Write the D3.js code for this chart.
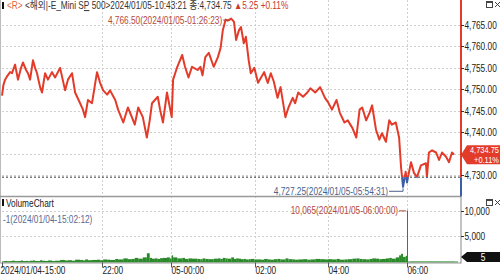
<!DOCTYPE html>
<html>
<head>
<meta charset="utf-8">
<script src="https://cdn.jsdelivr.net/npm/d3@7"></script>
<style>
body { margin: 0; background: #fff; }
svg { display: block; font-family: "Liberation Sans", Arial, "Noto Sans CJK KR", sans-serif; font-size: 10px; }
</style>
</head>
<body>
<svg id="chart" width="500" height="276"></svg>
<script>
// price ticks, [time, price]
var priceSeries = [
	["04 15:00", 4748.50], ["04 15:06", 4751.00], ["04 15:13", 4752.25], ["04 15:21", 4753.00],
	["04 15:34", 4754.00], ["04 15:42", 4753.75], ["04 15:55", 4755.75], ["04 16:07", 4752.25],
	["04 16:20", 4755.00], ["04 16:28", 4756.25], ["04 16:41", 4754.50], ["04 16:49", 4753.75],
	["04 16:58", 4752.25], ["04 17:10", 4756.75], ["04 17:19", 4755.00], ["04 17:27", 4753.75],
	["04 17:40", 4750.50], ["04 17:48", 4749.25], ["04 18:01", 4753.75], ["04 18:13", 4752.25],
	["04 18:30", 4754.00], ["04 18:43", 4752.75], ["04 19:04", 4755.00], ["04 19:25", 4749.75],
	["04 19:37", 4752.25], ["04 19:54", 4753.75], ["04 20:07", 4749.25], ["04 20:28", 4746.75],
	["04 20:40", 4745.25], ["04 20:49", 4743.50], ["04 21:01", 4747.50], ["04 21:18", 4746.75],
	["04 21:39", 4754.00], ["04 21:52", 4751.50],
	["04 22:02", 4749.75], ["04 22:09", 4748.75], ["04 22:14", 4749.75], ["04 22:23", 4747.50],
	["04 22:28", 4745.25], ["04 22:37", 4742.25], ["04 22:45", 4745.75], ["04 22:52", 4743.50],
	["04 22:57", 4741.75], ["04 23:03", 4745.75], ["04 23:11", 4743.50], ["04 23:18", 4738.75],
	["04 23:23", 4742.75], ["04 23:27", 4746.75], ["04 23:32", 4747.50], ["04 23:37", 4748.25],
	["04 23:41", 4745.25], ["04 23:46", 4742.25], ["04 23:53", 4749.25], ["04 23:58", 4745.75],
	["05 00:01", 4743.50], ["05 00:03", 4752.25], ["05 00:09", 4755.25], ["05 00:16", 4758.00],
	["05 00:20", 4755.25], ["05 00:25", 4752.75], ["05 00:30", 4755.25], ["05 00:38", 4754.50],
	["05 00:42", 4755.25], ["05 00:45", 4753.25], ["05 00:49", 4757.50], ["05 00:54", 4758.50],
	["05 01:01", 4755.25], ["05 01:07", 4757.50], ["05 01:11", 4759.75], ["05 01:14", 4763.75],
	["05 01:18", 4766.25], ["05 01:21", 4766.00], ["05 01:26", 4766.50], ["05 01:30", 4765.75],
	["05 01:33", 4761.50], ["05 01:37", 4763.75], ["05 01:40", 4764.50], ["05 01:44", 4760.75],
	["05 01:47", 4762.25], ["05 01:51", 4756.75], ["05 01:54", 4753.75], ["05 01:59", 4755.00],
	["05 02:05", 4751.50], ["05 02:10", 4752.75], ["05 02:15", 4754.00], ["05 02:21", 4751.50],
	["05 02:26", 4753.75], ["05 02:31", 4751.75], ["05 02:37", 4748.00], ["05 02:42", 4750.50],
	["05 02:50", 4743.50], ["05 02:55", 4745.75], ["05 03:02", 4748.00], ["05 03:06", 4746.75],
	["05 03:11", 4749.25], ["05 03:19", 4748.25], ["05 03:26", 4749.25], ["05 03:31", 4750.25],
	["05 03:39", 4749.25], ["05 03:47", 4750.50], ["05 03:55", 4748.00],
	["05 04:00", 4747.00], ["05 04:06", 4745.25], ["05 04:13", 4747.50], ["05 04:18", 4744.50],
	["05 04:25", 4742.25], ["05 04:30", 4742.75], ["05 04:37", 4741.00], ["05 04:43", 4738.75],
	["05 04:48", 4745.25], ["05 04:52", 4745.75], ["05 04:58", 4742.75], ["05 05:03", 4744.50],
	["05 05:07", 4746.25], ["05 05:13", 4740.50], ["05 05:18", 4738.25], ["05 05:22", 4739.75],
	["05 05:28", 4737.75], ["05 05:33", 4742.75], ["05 05:37", 4741.75], ["05 05:43", 4742.25],
	["05 05:48", 4738.75], ["05 05:51", 4731.75], ["05 05:54", 4727.25], ["05 05:58", 4730.75],
	["05 06:00", 4728.25], ["05 06:24", 4733.00], ["05 06:42", 4730.50], ["05 07:00", 4729.50],
	["05 07:24", 4732.25], ["05 07:54", 4732.75], ["05 08:00", 4729.50], ["05 08:12", 4735.25],
	["05 08:31", 4735.75], ["05 08:55", 4735.25], ["05 09:13", 4733.50], ["05 09:31", 4735.25],
	["05 09:55", 4734.25], ["05 10:13", 4733.00], ["05 10:31", 4735.25], ["05 10:43", 4734.75]
];

// volume at the same ticks as priceSeries
var volumeValues = [
	1, 150, 200, 120, 180, 250, 150, 200, 300, 180, 220, 160, 250, 300, 200, 180, 350,
	250, 200, 300, 180, 250, 400, 300, 350, 250, 450, 400, 300, 500, 350, 400, 450, 350,
	500, 450, 400, 600, 500, 700, 550, 600, 800, 650, 900, 1700, 800, 650, 700, 600, 750, 800, 900, 700,
	1300, 900, 700, 800, 600, 700, 650, 600, 550, 700, 600, 550, 650, 700, 600, 800, 700, 650,
	900, 600, 700, 650, 550, 600, 500, 550, 600, 500,
	500, 450, 600, 500, 450, 550, 600, 500, 700, 550, 500, 450, 500, 550, 450, 500, 600, 550, 500,
	550, 500, 600, 450, 500, 550, 650, 700, 600, 550, 500, 600, 700, 650, 550, 600, 700, 800,
	650, 900, 1300, 1600, 1000, 1200,
	10065, 60, 40, 50, 40, 30, 40, 50, 40, 30, 40, 30, 40, 30, 40, 5
];

var priceTicks = [4730, 4735, 4740, 4745, 4750, 4755, 4760, 4765];
var volumeTicks = [5000, 10000];
var timeTicks = ["04 15:00", "04 22:00", "05 00:00", "05 02:00", "05 04:00", "05 06:00"];
var timeLabels = ["2024/01/04-15:00", "22:00", "05-00:00", "02:00", "04:00", "06:00"];
var endTime = "05 10:43";
var prevClose = 4729.50;
var lastPrice = 4734.75;
var changeText = "+0.11%";

var RED = "#e33b2a", BLUE = "#3c5ea6", GREEN = "#2a8a2a", GRID = "#cfcfcf";
var SQUEEZE = 0.83; // the chart font is a narrow one

var parseTime = d3.timeParse("%d %H:%M");
var fmtPrice = d3.format(",.2f");
var fmtVol = d3.format(",");

var data = priceSeries.map(function(d, i) {
	return { t: parseTime(d[0]), p: d[1], v: volumeValues[i] };
});

var svg = d3.select("#chart");

// the axis is tick based, so every session gets its own width
var x = d3.scaleTime()
	.domain(timeTicks.concat([endTime]).map(parseTime))
	.range([2, 102, 171, 255, 328, 407, 454]);
var y = d3.scaleLinear().domain([4730, 4765]).range([175, 25]);
var yVol = d3.scaleLinear().domain([0, 10000]).range([262, 210.7]);

var axisX = 461, priceBottom = 196.5, volBottom = 262.5;

function label(parent, px, py, str, color, anchor) {
	return parent.append("g")
		.attr("transform", "translate(" + px + "," + py + ") scale(" + SQUEEZE + ",1)")
		.append("text")
		.attr("fill", color || "#222")
		.attr("text-anchor", anchor || "start")
		.text(str);
}

// frame
svg.append("line").attr("x1", 0.5).attr("x2", 0.5).attr("y1", 0).attr("y2", volBottom)
	.attr("stroke", "#bbb");

// grids
var grid = svg.append("g").attr("stroke", GRID).attr("stroke-dasharray", "2,2");
grid.selectAll("line.hp").data(priceTicks).enter().append("line")
	.attr("x1", 2).attr("x2", axisX)
	.attr("y1", function(d) { return Math.round(y(d)) + 0.5; })
	.attr("y2", function(d) { return Math.round(y(d)) + 0.5; });
grid.selectAll("line.hv").data(volumeTicks).enter().append("line")
	.attr("x1", 2).attr("x2", axisX)
	.attr("y1", function(d) { return Math.round(yVol(d)) + 0.5; })
	.attr("y2", function(d) { return Math.round(yVol(d)) + 0.5; });
grid.selectAll("line.v").data(timeTicks.slice(1)).enter().append("line")
	.attr("x1", function(d) { return Math.round(x(parseTime(d))) + 0.5; })
	.attr("x2", function(d) { return Math.round(x(parseTime(d))) + 0.5; })
	.attr("y1", 0).attr("y2", volBottom);

// previous close
svg.append("line")
	.attr("x1", 2).attr("x2", axisX)
	.attr("y1", y(prevClose)).attr("y2", y(prevClose))
	.attr("stroke", "#333").attr("stroke-dasharray", "2,2");

// price line, red above previous close and blue below
var defs = svg.append("defs");
defs.append("clipPath").attr("id", "upClip").append("rect")
	.attr("x", 0).attr("y", 0).attr("width", axisX).attr("height", y(prevClose));
defs.append("clipPath").attr("id", "downClip").append("rect")
	.attr("x", 0).attr("y", y(prevClose)).attr("width", axisX).attr("height", priceBottom - y(prevClose));

var line = d3.line()
	.x(function(d) { return x(d.t); })
	.y(function(d) { return y(d.p); });

svg.append("path").datum(data).attr("d", line)
	.attr("fill", "none").attr("stroke", RED).attr("stroke-width", 2)
	.attr("stroke-linejoin", "round").attr("clip-path", "url(#upClip)");
svg.append("path").datum(data).attr("d", line)
	.attr("fill", "none").attr("stroke", BLUE).attr("stroke-width", 2)
	.attr("stroke-linejoin", "round").attr("clip-path", "url(#downClip)");

// high / low labels
var hi = d3.greatest(data, function(d) { return d.p; });
var lo = d3.least(data, function(d) { return d.p; });
label(svg, x(hi.t) - 9, y(hi.p) + 5, fmtPrice(hi.p) + "(2024/01/05-01:26:23)", "#b5483a", "end");
svg.append("path")
	.attr("d", "M" + (x(hi.t) - 8) + "," + (y(hi.p) + 1.5) + "H" + (x(hi.t) - 1))
	.attr("stroke", "#b5483a").attr("fill", "none");
label(svg, x(lo.t) - 15, y(lo.p) + 8, fmtPrice(lo.p) + "(2024/01/05-05:54:31)", "#4a5f8c", "end");
svg.append("path")
	.attr("d", "M" + (x(lo.t) - 14) + "," + (y(lo.p) + 4.5) + "H" + x(lo.t) + "V" + (y(lo.p) + 1.5))
	.attr("stroke", "#4a5f8c").attr("fill", "none");

// panel separator
svg.append("line").attr("x1", 0).attr("x2", axisX).attr("y1", priceBottom).attr("y2", priceBottom)
	.attr("stroke", "#999").attr("stroke-width", 1.5);

// volume bars
svg.append("line").attr("x1", 2).attr("x2", 458).attr("y1", volBottom - 0.5).attr("y2", volBottom - 0.5)
	.attr("stroke", GREEN);
svg.selectAll("rect.vol").data(data).enter().append("rect")
	.attr("class", "vol")
	.attr("x", function(d) { return x(d.t); })
	.attr("width", function(d, i) {
		var next = data[i + 1];
		if (d.v > 5000 || !next) return 1;
		return Math.max(1, x(next.t) - x(d.t));
	})
	.attr("y", function(d) { return yVol(d.v); })
	.attr("height", function(d) { return yVol(0) - yVol(d.v); })
	.attr("fill", GREEN);

var vmax = d3.greatest(data, function(d) { return d.v; });
label(svg, x(vmax.t) - 9, yVol(vmax.v) + 4, fmtVol(vmax.v) + "(2024/01/05-06:00:00)", "#b5483a", "end");
svg.append("path")
	.attr("d", "M" + (x(vmax.t) - 8) + "," + (yVol(vmax.v) + 0.5) + "H" + (x(vmax.t) - 1))
	.attr("stroke", "#b5483a").attr("fill", "none");
label(svg, 3, 222.5, "-1(2024/01/04-15:02:12)", "#5a6a92");

// bottom axis
svg.append("line").attr("x1", 0).attr("x2", axisX).attr("y1", volBottom + 0.5).attr("y2", volBottom + 0.5)
	.attr("stroke", "#999");
timeTicks.forEach(function(d, i) {
	var tx = Math.round(x(parseTime(d)));
	svg.append("line").attr("x1", tx + 0.5).attr("x2", tx + 0.5)
		.attr("y1", volBottom).attr("y2", volBottom + 5).attr("stroke", "#555");
	label(svg, i === 0 ? tx - 1.5 : tx + 0.5, 274, timeLabels[i]);
});

// right axes
svg.append("line").attr("x1", axisX).attr("x2", axisX).attr("y1", 0).attr("y2", y(prevClose))
	.attr("stroke", RED).attr("stroke-width", 2);
svg.append("line").attr("x1", axisX).attr("x2", axisX).attr("y1", y(prevClose)).attr("y2", priceBottom)
	.attr("stroke", BLUE).attr("stroke-width", 2);
svg.append("line").attr("x1", axisX).attr("x2", axisX).attr("y1", priceBottom).attr("y2", volBottom + 1)
	.attr("stroke", "#888");

var cy = y(lastPrice);
priceTicks.forEach(function(d) {
	var ty = Math.round(y(d));
	svg.append("line").attr("x1", axisX).attr("x2", axisX + 3).attr("y1", ty + 0.5).attr("y2", ty + 0.5)
		.attr("stroke", "#333");
	// the tick under the price badge is hidden
	if (Math.abs(y(d) - cy) > 9) label(svg, axisX + 3.5, ty + 4, fmtPrice(d));
});
volumeTicks.forEach(function(d) {
	var ty = Math.round(yVol(d));
	svg.append("line").attr("x1", axisX).attr("x2", axisX + 3).attr("y1", ty + 0.5).attr("y2", ty + 0.5)
		.attr("stroke", "#333");
	label(svg, axisX + 3.5, ty + 4, fmtVol(d));
});

// current price badge
svg.append("path")
	.attr("d", "M" + axisX + "," + cy + "L" + (axisX + 6) + "," + (cy - 9.5) + "H500V" + (cy + 9.5) + "H" + (axisX + 6) + "Z")
	.attr("fill", RED);
label(svg, 499, cy - 1.5, fmtPrice(lastPrice), "#fff", "end").attr("font-size", "9px");
label(svg, 499, cy + 8.5, changeText, "#fff", "end").attr("font-size", "9px");

// current volume badge
var lastVol = data[data.length - 1].v;
var vyc = Math.min(yVol(lastVol), volBottom - 5.5);
svg.append("path")
	.attr("d", "M" + axisX + "," + vyc + "L" + (axisX + 6) + "," + (vyc - 5) + "H500V" + (vyc + 5) + "H" + (axisX + 6) + "Z")
	.attr("fill", "#111");
label(svg, 483, vyc + 3.5, lastVol, "#fff", "middle");

// headers
svg.append("rect").attr("x", 2).attr("y", 2).attr("width", 2).attr("height", 7).attr("fill", "#111");
var head = label(svg, 7, 9, "", "#333");
head.append("tspan").attr("fill", "#e0663c").text("<R>");
head.append("tspan").text(" <");
head.append("tspan").attr("font-size", "10.5px").text("해외");
head.append("tspan").text("|-E_Mini S");
head.append("tspan").attr("text-decoration", "underline").text("P");
head.append("tspan").text(" 500>2024/01/05-10:43:21 ");
head.append("tspan").attr("font-size", "10.5px").text("종");
head.append("tspan").text(":" + fmtPrice(lastPrice) + " ");
head.append("tspan").attr("fill", "#cc3b2c").text("▲5.25 " + changeText);

svg.append("rect").attr("x", 2).attr("y", 199).attr("width", 2).attr("height", 7).attr("fill", "#111");
label(svg, 6, 206.5, "VolumeChart");

// window buttons
function buttons(top) {
	var g = svg.append("g").attr("transform", "translate(486," + top + ")")
		.attr("stroke", "#444").attr("fill", "none");
	g.append("rect").attr("x", 0.5).attr("y", 0.5).attr("width", 6).attr("height", 6);
	g.append("line").attr("x1", 0.5).attr("x2", 6.5).attr("y1", 1.5).attr("y2", 1.5);
	g.append("path").attr("d", "M9,1L14,6M14,1L9,6");
}
buttons(1);
buttons(199);
</script>
</body>
</html>
